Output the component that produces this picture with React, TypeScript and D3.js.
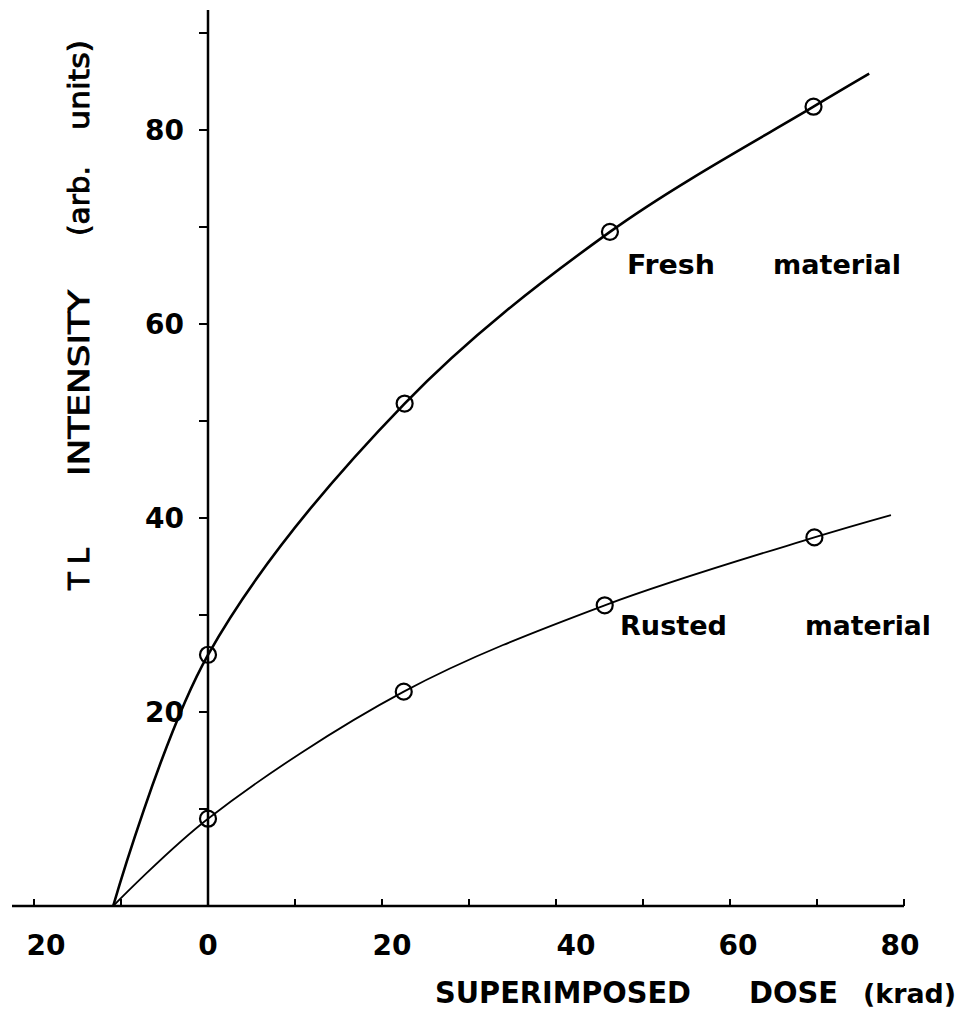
import React from "react";
import * as d3 from "d3";

const xTicks = [-20, -10, 0, 10, 20, 30, 40, 50, 60, 70, 80];
const xTickLabels = [-20, 0, 20, 40, 60, 80];
const yTicks = [10, 20, 30, 40, 50, 60, 70, 80, 90];
const yTickLabels = [20, 40, 60, 80];

const freshDose = [0, 22.6, 46.2, 69.6];
const freshTL = [25.9, 51.8, 69.5, 82.4];
const rustedDose = [0, 22.5, 45.6, 69.7];
const rustedTL = [9.0, 22.1, 31.0, 38.0];

// fitted curves drawn in the figure (start at intercept, end beyond last point)
const freshCurveDose = [-10.9, 0, 22.6, 46.2, 69.6, 76.0];
const freshCurveTL = [0, 25.9, 51.8, 69.5, 82.4, 85.8];
const rustedCurveDose = [-10.9, 0, 22.5, 45.6, 69.7, 78.5];
const rustedCurveTL = [0, 9.0, 22.1, 31.0, 38.0, 40.3];

const W = 966;
const H = 1013;
const FONT = "'DejaVu Sans', sans-serif";

export default function App() {
  const x = d3.scaleLinear().domain([0, 80]).range([208, 904]);
  const y = d3.scaleLinear().domain([0, 80]).range([906, 130]);

  const line = d3
    .line<[number, number]>()
    .x((d) => x(d[0]))
    .y((d) => y(d[1]))
    .curve(d3.curveCatmullRom.alpha(0.5));

  const freshPts = freshCurveDose.map((d, i) => [d, freshCurveTL[i]] as [number, number]);
  const rustedPts = rustedCurveDose.map((d, i) => [d, rustedCurveTL[i]] as [number, number]);

  return (
    <svg
      width={W}
      height={H}
      viewBox={`0 0 ${W} ${H}`}
      style={{ position: "absolute", left: 0, top: 0, background: "#fff" }}
    >
      <rect x={0} y={0} width={W} height={H} fill="#fff" />
      {/* x axis */}
      <line x1={12} x2={x(80)} y1={y(0)} y2={y(0)} stroke="#000" strokeWidth={2.5} />
      {xTicks.map((t) => (
        <line key={t} x1={x(t)} x2={x(t)} y1={y(0)} y2={y(0) - 7} stroke="#000" strokeWidth={2} />
      ))}
      {xTickLabels.map((t) => (
        <text
          key={t}
          x={x(t) + (t === -20 ? 12 : t === 40 ? 20 : t === 20 ? 10 : t === 60 ? 8 : t === 80 ? -4 : 0)}
          y={y(0) + 49}
          textAnchor="middle"
          fontFamily={FONT}
          fontSize={28}
          fontWeight="bold"
        >
          {Math.abs(t)}
        </text>
      ))}
      {/* y axis */}
      <line x1={x(0)} x2={x(0)} y1={y(0)} y2={10} stroke="#000" strokeWidth={2.5} />
      {yTicks.map((t) => (
        <line key={t} x1={x(0) - 9} x2={x(0)} y1={y(t)} y2={y(t)} stroke="#000" strokeWidth={2} />
      ))}
      {yTickLabels.map((t) => (
        <text
          key={t}
          x={x(0) - 24}
          y={y(t) + 10}
          textAnchor="end"
          fontFamily={FONT}
          fontSize={28}
          fontWeight="bold"
        >
          {t}
        </text>
      ))}

      {/* curves */}
      <path d={line(freshPts) || ""} fill="none" stroke="#000" strokeWidth={2.6} />
      <path d={line(rustedPts) || ""} fill="none" stroke="#000" strokeWidth={1.8} />

      {/* points */}
      {freshDose.map((d, i) => (
        <circle key={"f" + i} cx={x(d)} cy={y(freshTL[i])} r={8} fill="none" stroke="#000" strokeWidth={2.2} />
      ))}
      {rustedDose.map((d, i) => (
        <circle key={"r" + i} cx={x(d)} cy={y(rustedTL[i])} r={8} fill="none" stroke="#000" strokeWidth={2.2} />
      ))}

      {/* annotations */}
      <g fontFamily={FONT} fontSize={26} fontWeight="bold">
        <text x={627} y={274} textLength={88} lengthAdjust="spacingAndGlyphs">Fresh</text>
        <text x={773} y={274} textLength={128} lengthAdjust="spacingAndGlyphs">material</text>
        <text x={620} y={635} textLength={107} lengthAdjust="spacingAndGlyphs">Rusted</text>
        <text x={805} y={635} textLength={126} lengthAdjust="spacingAndGlyphs">material</text>
      </g>

      {/* x axis title */}
      <g fontFamily={FONT} fontSize={30} fontWeight="bold">
        <text x={435} y={1003} textLength={256} lengthAdjust="spacingAndGlyphs">SUPERIMPOSED</text>
        <text x={749} y={1003} textLength={89} lengthAdjust="spacingAndGlyphs">DOSE</text>
        <text x={863} y={1003} fontSize={27} textLength={93} lengthAdjust="spacingAndGlyphs">(krad)</text>
      </g>

      {/* y axis title */}
      <g
        fontFamily={FONT}
        fontSize={29}
        stroke="#000"
        strokeWidth={0.9}
        transform="translate(89,0) rotate(-90)"
      >
        <text x={-590} y={0} letterSpacing={8}>TL</text>
        <text x={-476} y={0} textLength={186} lengthAdjust="spacingAndGlyphs">INTENSITY</text>
        <text x={-236} y={0} textLength={70} lengthAdjust="spacingAndGlyphs">(arb.</text>
        <text x={-130} y={0} textLength={90} lengthAdjust="spacingAndGlyphs">units)</text>
      </g>
    </svg>
  );
}
